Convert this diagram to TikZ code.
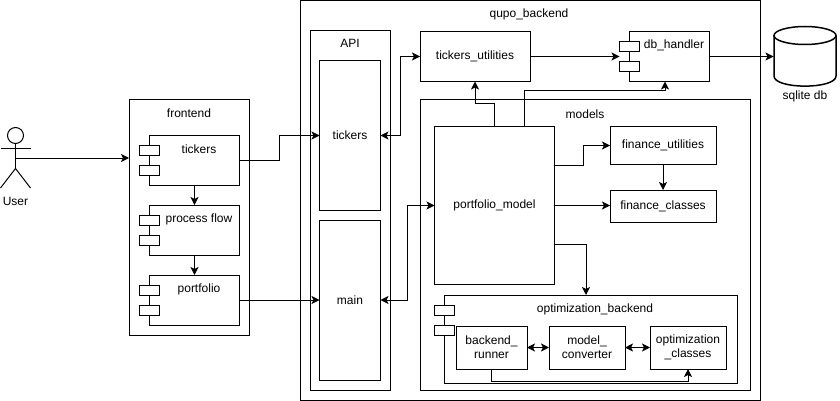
\documentclass[tikz,border=0pt]{standalone}
\usepackage{fontspec}
\setmainfont{Liberation Sans}
\usetikzlibrary{arrows.meta}

\tikzset{
    box/.style={draw=black, line width=1pt, inner sep=0pt, outer sep=0pt, align=center, font=\fontsize{12}{14}\selectfont},
    port/.style={draw=black, fill=white, line width=1pt, minimum width=20pt, minimum height=10pt, inner sep=0pt, outer sep=0pt},
    lbl/.style={inner sep=0pt, font=\fontsize{12}{14}\selectfont},
    conn/.style={line width=1pt, -{Stealth[length=8pt,width=8pt,inset=2pt]}},
    biconn/.style={line width=1pt, {Stealth[length=8pt,width=8pt,inset=2pt]}-{Stealth[length=8pt,width=8pt,inset=2pt]}}
}

\begin{document}
\begin{tikzpicture}[x=1pt, y=-1pt]
        \useasboundingbox (0,0) rectangle (840,401);

        % user
        \coordinate (head) at (15.5,135.5);
        \coordinate (hip) at (15.5,168.5);
        \coordinate (hand) at (15.5,158);
        \draw[line width=1pt] (head) circle (8);
        \draw[line width=1pt] (15.5,143.5) -- (hip);
        \draw[line width=1pt] (0.5,148) -- (30.5,148);
        \draw[line width=1pt] (0.5,188) -- (hip) -- (30.5,188);
        \node[lbl] (user) at (15.5,201) {User};

        % frontend
        \node[box, minimum width=120pt, minimum height=235pt] (frontend) at (189,217.5) {};
        \node[lbl] (frontendlbl) at (189,113.5) {frontend};
        \foreach \name/\ypos/\txt in {tickers/160/tickers, flow/230/process flow, portfolio/300/portfolio} {
            \node[box, minimum width=90pt, minimum height=50pt] (\name) at (194.5,\ypos) {};
            \node[port] (\name p1) at (149.5,\ypos-10) {};
            \node[port] (\name p2) at (149.5,\ypos+10) {};
            \node[lbl] (\name lbl) at (199,\ypos-11) {\txt};
        }

        % backend
        \node[box, minimum width=460pt, minimum height=400pt] (backend) at (530,200.5) {};
        \node[lbl] (backendlbl) at (529,14) {qupo\_backend};

        % api
        \node[box, minimum width=80pt, minimum height=360pt] (api) at (350.5,210.5) {};
        \node[lbl] (apilbl) at (350,43) {API};
        \node[box, minimum width=61pt, minimum height=150pt] (apitickers) at (350,135.5) {tickers};
        \node[box, minimum width=61pt, minimum height=160pt] (apimain) at (350,300) {main};

        % utilities and db
        \node[box, minimum width=110pt, minimum height=50pt] (tickersutil) at (475,56.5) {tickers\_utilities};
        \node[box, minimum width=80pt, minimum height=50pt] (dbhandler) at (669.5,56.5) {};
        \node[port] (dbp1) at (629.5,46.5) {};
        \node[port] (dbp2) at (629.5,66.5) {};
        \node[lbl] (dblbl) at (674,45) {db\_handler};
        \coordinate (sqlitein) at (773.5,56.5);
        \draw[line width=1.5pt] (805,35.5) ellipse [x radius=31, y radius=9];
        \draw[line width=1.5pt] (774,35.5) -- (774,76) .. controls (774,89.5) and (836,89.5) .. (836,76) -- (836,35.5);
        \node[lbl] (sqlitelbl) at (805,96) {sqlite db};

        % models
        \node[box, minimum width=330pt, minimum height=290pt] (models) at (585.5,245) {};
        \node[lbl] (modelslbl) at (585,114) {models};
        \node[box, minimum width=120pt, minimum height=157pt] (portfolio model) at (494.5,205.5) {portfolio\_model};
        \node[box, minimum width=106pt, minimum height=37pt] (financeutil) at (663,145.5) {finance\_utilities};
        \node[box, minimum width=106pt, minimum height=32pt] (financeclass) at (663,206) {finance\_classes};

        % optimization
        \node[box, minimum width=293pt, minimum height=88pt] (optim) at (590.5,339) {};
        \node[port] (optimp1) at (444.5,310.5) {};
        \node[port] (optimp2) at (444.5,330.5) {};
        \node[lbl] (optimlbl) at (595,309) {optimization\_backend};
        \node[box, minimum width=71pt, minimum height=43pt] (runner) at (491.5,347.5) {backend\_\\runner};
        \node[box, minimum width=76pt, minimum height=43pt] (converter) at (587,347.5) {model\_\\converter};
        \node[box, minimum width=76pt, minimum height=43pt] (optclasses) at (688,347.5) {optimization\\\_classes};

        % connectors
        \draw[conn] (hand) -- (hand -| frontend.west);
        \draw[conn] (tickers) -- (flow);
        \draw[conn] (flow) -- (portfolio);
        \draw[conn] (tickers.east) -- (279,160) |- (apitickers.west);
        \draw[conn] (portfolio.east) -- (apimain.west |- portfolio.east);
        \draw[biconn] (apitickers.east) -- (400.5,135.5) |- (tickersutil.west);
        \draw[biconn] (apimain.east) -- (407,300) |- (portfolio model.west);
        \draw[conn] (tickersutil.east) -- (dbp1.west |- tickersutil.east);
        \draw[conn] (dbhandler.east) -- (sqlitein);
        \draw[conn] (portfolio model.north) -- (494.5,104) -| (tickersutil.south);
        \draw[conn] (524.5,127) -- (524.5,90.5) -| (665,81.5);
        \draw[conn] (554.5,165.5) -- (583,165.5) |- (financeutil.west);
        \draw[conn] (portfolio model.east) -- (financeclass.west |- portfolio model.east);
        \draw[conn] (financeutil) -- (financeclass);
        \draw[conn] (554.5,244) -- (586,244) -- (586,295);
        \draw[biconn] (runner) -- (converter);
        \draw[biconn] (converter) -- (optclasses);
        \draw[conn] (runner.south) -- (491.5,381) -| (optclasses.south);
\end{tikzpicture}
\end{document}
